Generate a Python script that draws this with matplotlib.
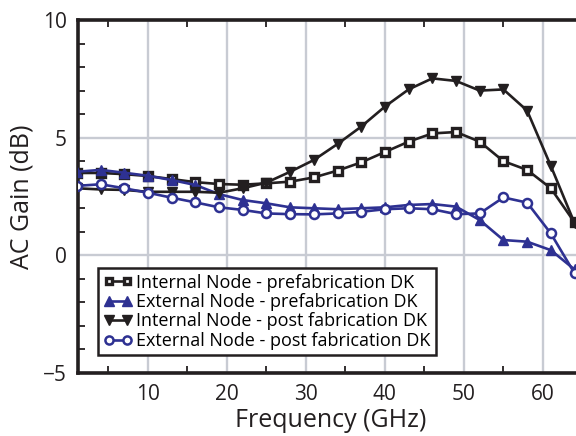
import numpy as np
import matplotlib.pyplot as plt
from matplotlib.ticker import MultipleLocator

plt.rcParams['font.family'] = ['Open Sans', 'DejaVu Sans']

# ---- data ----
freq = [1, 4, 7, 10, 13, 16, 19, 22, 25, 28, 31, 34, 37, 40, 43, 46, 49, 52, 55, 58, 61, 64]

int_pre = [3.50, 3.50, 3.45, 3.37, 3.24, 3.11, 3.03, 3.00, 3.06, 3.13, 3.31, 3.60,
           3.95, 4.39, 4.83, 5.18, 5.24, 4.83, 4.00, 3.63, 2.85, 1.40]
ext_pre = [3.55, 3.63, 3.51, 3.38, 3.20, 2.99, 2.60, 2.35, 2.21, 2.04, 2.00, 1.96,
           2.00, 2.04, 2.14, 2.18, 2.07, 1.50, 0.65, 0.58, 0.22, -0.60]
int_post = [2.85, 2.80, 2.78, 2.70, 2.70, 2.70, 2.66, 2.85, 3.09, 3.55, 4.05, 4.73,
            5.47, 6.32, 7.05, 7.52, 7.41, 7.00, 7.05, 6.15, 3.80, 1.37]
ext_post = [2.95, 3.02, 2.85, 2.66, 2.45, 2.25, 2.04, 1.93, 1.78, 1.75, 1.74, 1.78,
            1.85, 1.96, 2.00, 1.96, 1.75, 1.78, 2.46, 2.24, 0.93, -0.76]

labels = ['Internal Node - prefabrication DK',
          'External Node - prefabrication DK',
          'Internal Node - post fabrication DK',
          'External Node - post fabrication DK']

BLACK = '#231f20'
BLUE = '#2e3192'

fig = plt.figure(figsize=(5.76, 4.36), dpi=100)
# axes runs slightly past the right edge, so the right spine is cut off like the original
ax = fig.add_axes([78 / 576, 63 / 436, 506 / 576, 353 / 436])

lw = 1.9
ax.plot(freq, int_pre, color=BLACK, lw=lw, marker='s', ms=5.5, mfc='white',
        mec=BLACK, mew=2.4, label=labels[0], zorder=3)
ax.plot(freq, ext_pre, color=BLUE, lw=lw, marker='^', ms=7.5, mfc=BLUE,
        mec=BLUE, label=labels[1], zorder=3)
ax.plot(freq, int_post, color=BLACK, lw=lw, marker='v', ms=7.5, mfc=BLACK,
        mec=BLACK, label=labels[2], zorder=3)
ax.plot(freq, ext_post, color=BLUE, lw=lw, marker='o', ms=6.5, mfc='white',
        mec=BLUE, mew=1.8, label=labels[3], zorder=3)

ax.set_xlim(1.15, 65.2)
ax.set_ylim(-5, 10)

ax.xaxis.set_major_locator(MultipleLocator(10))
ax.xaxis.set_minor_locator(MultipleLocator(5))
ax.yaxis.set_major_locator(MultipleLocator(5))
ax.yaxis.set_minor_locator(MultipleLocator(1))

ax.grid(True, which='major', color='#c8cbd3', lw=1.7, zorder=0)
ax.set_axisbelow(True)
ax.tick_params(which='both', direction='in', top=True, right=False,
               color=BLACK, width=1.3, labelsize=15, labelcolor=BLACK)
ax.tick_params(which='major', length=0, pad=8)
ax.tick_params(which='minor', length=5)
for s in ax.spines.values():
    s.set_linewidth(2.6)
    s.set_color(BLACK)

ax.set_xlabel('Frequency (GHz)', fontsize=18, color=BLACK, labelpad=2)
ax.set_ylabel('AC Gain (dB)', fontsize=18, color=BLACK, labelpad=6)

leg = ax.legend(loc='lower left', bbox_to_anchor=(0.04, 0.05), fontsize=13,
                frameon=True, fancybox=False, handlelength=1.6, numpoints=2,
                handletextpad=0.2, borderpad=0.3, labelspacing=0.08,
                borderaxespad=0, markerscale=0.9)
leg.get_frame().set_edgecolor(BLACK)
leg.get_frame().set_linewidth(1.8)
leg.get_frame().set_alpha(1)

fig.savefig('out.png', dpi=100)
